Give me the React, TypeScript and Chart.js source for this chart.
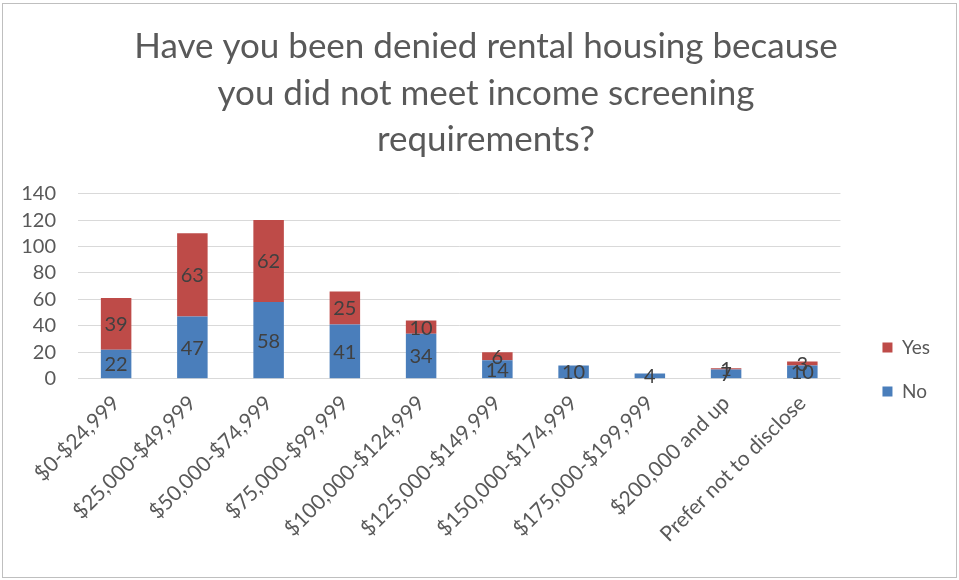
import React, { useEffect, useRef } from "react";
import { Chart, registerables } from "chart.js";

Chart.register(...registerables);

const categories = [
  "$0-$24,999",
  "$25,000-$49,999",
  "$50,000-$74,999",
  "$75,000-$99,999",
  "$100,000-$124,999",
  "$125,000-$149,999",
  "$150,000-$174,999",
  "$175,000-$199,999",
  "$200,000 and up",
  "Prefer not to disclose",
];
const noValues: (number | null)[] = [22, 47, 58, 41, 34, 14, 10, 4, 7, 10];
const yesValues: (number | null)[] = [39, 63, 62, 25, 10, 6, null, null, 1, 3];
const titleLines = [
  "Have you been denied rental housing because",
  "you did not meet income screening",
  "requirements?",
];

const FONT = "Lato, 'Open Sans', sans-serif";

const labelPlugin = {
  id: "segLabels",
  afterDatasetsDraw(chart: any) {
    const ctx = chart.ctx;
    ctx.save();
    ctx.font = `20px ${FONT}`;
    ctx.fillStyle = "#404040";
    ctx.textAlign = "center";
    ctx.textBaseline = "middle";
    chart.data.datasets.forEach((ds: any, di: number) => {
      const meta = chart.getDatasetMeta(di);
      meta.data.forEach((el: any, i: number) => {
        const v = ds.data[i];
        if (v === null || v === undefined) return;
        const p = el.getProps(["x", "y", "base"], true);
        ctx.fillText(String(v), p.x, (p.y + p.base) / 2 + 1);
      });
    });
    ctx.restore();
  },
};

// nudge the title block so it is centred like the reference
const titleShift = {
  id: "titleShift",
  afterLayout(chart: any) {
    const t = chart.titleBlock;
    if (t) {
      t.left += 6;
      t.right += 6;
    }
  },
};

export default function App() {
  const ref = useRef<HTMLCanvasElement>(null);
  useEffect(() => {
    if (!ref.current) return;
    const chart = new Chart(ref.current, {
      type: "bar",
      data: {
        labels: categories,
        datasets: [
          {
            label: "No",
            data: noValues,
            backgroundColor: "#4a7ebb",
            borderWidth: 0,
            categoryPercentage: 0.8,
            barPercentage: 0.5,
          },
          {
            label: "Yes",
            data: yesValues,
            backgroundColor: "#be4b48",
            borderWidth: 0,
            categoryPercentage: 0.8,
            barPercentage: 0.5,
          },
        ],
      },
      options: {
        responsive: false,
        animation: false,
        devicePixelRatio: 1,
        layout: { padding: { left: 20, right: 19, top: 20, bottom: 29 } },
        plugins: {
          title: {
            display: true,
            text: titleLines,
            color: "#595959",
            font: { family: FONT, size: 35, weight: "normal", lineHeight: 1.32 },
            padding: { top: 4, bottom: 31 },
          },
          legend: {
            position: "right",
            reverse: true,
            title: {
              display: true,
              text: " ",
              font: { family: FONT, size: 10, lineHeight: 1.2 },
              padding: { top: 156, bottom: 0 },
            },
            labels: {
              boxWidth: 10,
              boxHeight: 10,
              color: "#595959",
              font: { family: FONT, size: 19 },
              padding: 25,
            },
          },
          tooltip: { enabled: false },
        },
        scales: {
          x: {
            stacked: true,
            grid: { display: false },
            border: { display: false },
            ticks: {
              color: "#595959",
              font: { family: FONT, size: 21 },
              maxRotation: 45,
              minRotation: 45,
              autoSkip: false,
              padding: 4,
            },
            afterFit(scale: any) {
              scale.paddingLeft = 0;
              scale.paddingRight = 0;
            },
          },
          y: {
            stacked: true,
            min: 0,
            max: 140,
            grid: { color: "#d9d9d9", lineWidth: 1, drawTicks: false },
            border: { display: false },
            ticks: {
              stepSize: 20,
              autoSkip: false,
              color: "#595959",
              font: { family: FONT, size: 20 },
              padding: 22,
            },
            afterFit(scale: any) {
              scale.width = 58;
            },
          },
          pad: {
            type: "linear",
            position: "right",
            display: true,
            grid: { display: false },
            border: { display: false },
            ticks: { display: false },
            afterFit(scale: any) {
              scale.width = 17;
            },
          },
        },
      },
      plugins: [labelPlugin, titleShift],
    });
    return () => chart.destroy();
  }, []);
  return (
    <div
      style={{
        position: "absolute",
        left: 0,
        top: 0,
        width: 959,
        height: 580,
        background: "#fff",
      }}
    >
      <div
        style={{
          position: "absolute",
          left: 2,
          top: 3,
          width: 955,
          height: 575,
          boxSizing: "border-box",
          border: "1px solid #bfbfbf",
        }}
      />
      <canvas ref={ref} width={959} height={580} style={{ position: "absolute", left: 0, top: 0 }} />
    </div>
  );
}
